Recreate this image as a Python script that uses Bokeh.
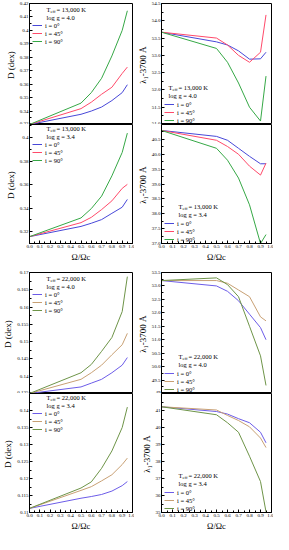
from bokeh.plotting import figure
from bokeh.layouts import column, row
from bokeh.models import FixedTicker, Range1d, Legend, LegendItem, Label
from bokeh.embed import file_html
from bokeh.resources import INLINE

FONT = "Liberation Serif"

# ---------------- data ----------------
omega = [0.0, 0.5, 0.6, 0.7, 0.8, 0.9, 0.95]
incl_labels = ["i = 0°", "i = 45°", "i = 90°"]

x_ticks = [0.0, 0.1, 0.2, 0.3, 0.4, 0.5, 0.6, 0.7, 0.8, 0.9, 1.0]
x_tick_labels = ["0.0", "0.1", "0.2", "0.3", "0.4", "0.5", "0.6", "0.7", "0.8", "0.9", "1.0"]

# Teff = 13,000 K, log g = 4.0
d13_40_i0 = [0.3300, 0.3376, 0.3400, 0.3430, 0.3478, 0.3537, 0.3596]
d13_40_i45 = [0.3300, 0.3418, 0.3466, 0.3525, 0.3577, 0.3680, 0.3727]
d13_40_i90 = [0.3300, 0.3459, 0.3537, 0.3644, 0.3810, 0.4000, 0.4146]
l13_40_i0 = [53.67, 53.39, 53.30, 53.13, 52.89, 52.90, 53.09]
l13_40_i45 = [53.67, 53.50, 53.30, 53.00, 52.80, 53.09, 54.17]
l13_40_i90 = [53.67, 53.20, 52.80, 52.20, 51.50, 51.10, 52.40]

# Teff = 13,000 K, log g = 3.4
d13_34_i0 = [0.3158, 0.3245, 0.3272, 0.3303, 0.3356, 0.3408, 0.3474]
d13_34_i45 = [0.3158, 0.3277, 0.3322, 0.3388, 0.3462, 0.3568, 0.3602]
d13_34_i90 = [0.3158, 0.3317, 0.3396, 0.3502, 0.3674, 0.3873, 0.4037]
l13_34_i0 = [40.80, 40.60, 40.47, 40.20, 39.93, 39.68, 39.68]
l13_34_i45 = [40.80, 40.47, 40.26, 40.00, 39.60, 39.30, 39.70]
l13_34_i90 = [40.80, 40.20, 39.80, 39.20, 38.30, 37.00, 37.30]

# Teff = 22,000 K, log g = 4.0
d22_40_i0 = [0.1350, 0.1369, 0.1380, 0.1391, 0.1410, 0.1432, 0.1454]
d22_40_i45 = [0.1350, 0.1391, 0.1410, 0.1432, 0.1462, 0.1491, 0.1524]
d22_40_i90 = [0.1350, 0.1410, 0.1434, 0.1472, 0.1512, 0.1587, 0.1688]
l22_40_i0 = [53.20, 53.00, 52.80, 52.45, 51.95, 51.45, 51.00]
l22_40_i45 = [53.20, 53.20, 53.10, 52.85, 52.60, 51.85, 51.70]
l22_40_i90 = [53.20, 53.30, 53.05, 52.60, 51.50, 50.40, 49.30]

# Teff = 22,000 K, log g = 3.4
d22_34_i0 = [0.1112, 0.1142, 0.1147, 0.1153, 0.1163, 0.1179, 0.1191]
d22_34_i45 = [0.1112, 0.1165, 0.1176, 0.1193, 0.1211, 0.1241, 0.1260]
d22_34_i90 = [0.1112, 0.1172, 0.1190, 0.1230, 0.1281, 0.1350, 0.1410]
l22_34_i0 = [41.22, 40.94, 40.79, 40.52, 40.28, 39.72, 39.10]
l22_34_i45 = [41.22, 41.03, 40.71, 40.41, 40.04, 39.38, 38.82]
l22_34_i90 = [41.22, 40.75, 40.28, 39.72, 38.31, 36.82, 35.04]

# y ticks / labels
yt_d13_40 = [0.33, 0.34, 0.35, 0.36, 0.37, 0.38, 0.39, 0.40, 0.41, 0.42]
yl_d13_40 = ["0.33", "0.34", "0.35", "0.36", "0.37", "0.38", "0.39", "0.4", "0.41", "0.42"]
yt_d13_34 = [0.32, 0.34, 0.36, 0.38, 0.40]
yl_d13_34 = ["0.32", "0.34", "0.36", "0.38", "0.4"]
yt_l13_40 = [51.0, 51.5, 52.0, 52.5, 53.0, 53.5, 54.0, 54.5]
yl_l13_40 = ["51.0", "51.5", "52.0", "52.5", "53.0", "53.5", "54.0", "54.5"]
yt_l13_34 = [37.0, 37.5, 38.0, 38.5, 39.0, 39.5, 40.0, 40.5]
yl_l13_34 = ["37.0", "37.5", "38.0", "38.5", "39.0", "39.5", "40.0", "40.5"]
yt_d22_40 = [0.135, 0.14, 0.145, 0.15, 0.155, 0.16, 0.165, 0.17]
yl_d22_40 = ["0.135", "0.14", "0.145", "0.15", "0.155", "0.16", "0.165", "0.17"]
yt_l22_40 = [49.0, 49.5, 50.0, 50.5, 51.0, 51.5, 52.0, 52.5, 53.0, 53.5]
yl_l22_40 = ["49", "49.5", "50.0", "50.5", "51.0", "51.5", "52.0", "52.5", "53.0", "53.5"]
yt_d22_34 = [0.11, 0.115, 0.12, 0.125, 0.13, 0.135, 0.14]
yl_d22_34 = ["0.11", "0.115", "0.12", "0.125", "0.13", "0.135", "0.14"]
yt_l22_34 = [35, 36, 37, 38, 39, 40, 41]
yl_l22_34 = ["35", "36", "37", "38", "39", "40", "41"]

colors_13 = ["#4848d8", "#ff4a6a", "#36a846"]
colors_22 = ["#6c5ce8", "#c8a074", "#6e9448"]

# ---------------- layout constants ----------------
LEFT_W, RIGHT_W = 134, 139
MBL = 26
MBR = 2
FH = 121
BOTTOM_AXIS = 19


def minor_of(ticks):
    step = ticks[1] - ticks[0]
    out = [t + step / 2 for t in ticks]
    out.insert(0, ticks[0] - step / 2)
    return out


def style_axis(ax):
    ax.axis_line_color = "black"
    ax.major_tick_in = 3
    ax.major_tick_out = 0
    ax.minor_tick_in = 2
    ax.minor_tick_out = 0
    ax.major_tick_line_color = "black"
    ax.minor_tick_line_color = "black"
    ax.major_label_text_font = FONT
    ax.major_label_text_font_size = "5px"
    ax.major_label_text_color = "black"
    ax.major_label_standoff = 1
    ax.axis_label_text_font = FONT
    ax.axis_label_text_font_style = "normal"
    ax.axis_label_text_color = "black"
    ax.axis_label_standoff = 1


def make_panel(side, kind, yr, yticks, ylabels, ylab, series, colors, temp, logg, hx):
    width = LEFT_W if side == "L" else RIGHT_W
    if kind == "top1":
        mbt, mbb = 3, 0
    elif kind == "top2":
        mbt, mbb = 8, 0
    else:
        mbt, mbb = 0, BOTTOM_AXIS
    height = FH + mbt + mbb
    p = figure(width=width, height=height, x_range=Range1d(0, 1), y_range=Range1d(*yr),
               output_backend="svg", toolbar_location=None,
               min_border_left=MBL, min_border_right=MBR,
               min_border_top=mbt, min_border_bottom=mbb)
    p.outline_line_color = "black"
    p.outline_line_alpha = 1
    p.grid.visible = False

    xa = p.xaxis[0]
    style_axis(xa)
    xa.ticker = FixedTicker(ticks=x_ticks, minor_ticks=minor_of(x_ticks))
    xa.major_label_overrides = dict(zip(x_ticks, x_tick_labels))
    if kind == "bot":
        xa.axis_label = "Ω/Ωc"
        xa.axis_label_text_font_size = "8.5px"
    else:
        xa.visible = False

    ya = p.yaxis[0]
    style_axis(ya)
    ya.ticker = FixedTicker(ticks=yticks, minor_ticks=minor_of(yticks))
    ya.major_label_overrides = dict(zip(yticks, ylabels))
    ya.axis_label = ylab
    ya.axis_label_text_font_size = "9px"

    rends = []
    for ys, c in zip(series, colors):
        rends.append(p.line(omega, ys, line_color=c, line_width=1))

    items = [LegendItem(label=lab, renderers=[r]) for lab, r in zip(incl_labels, rends)]
    if side == "L":
        leg_y = FH - 42
        yT, yg = FH - 6, FH - 14
    else:
        leg_y = 0
        yT, yg = 37, 29
    leg = Legend(items=items, location=(3, leg_y), orientation="vertical",
                 padding=0, spacing=0, margin=0, glyph_width=10, glyph_height=8,
                 label_height=8, label_standoff=3, label_text_font=FONT,
                 label_text_font_size="6.5px", label_text_color="black",
                 background_fill_alpha=0, border_line_alpha=0)
    p.add_layout(leg)

    common = dict(x_units="screen", y_units="screen", text_font=FONT,
                  text_color="black", text_baseline="middle")
    p.add_layout(Label(x=hx, y=yT, text="T", text_font_size="6.5px", **common))
    p.add_layout(Label(x=hx + 4.0, y=yT - 1.8, text="eff", text_font_size="4.5px", **common))
    p.add_layout(Label(x=hx + 10.0, y=yT, text="= " + temp, text_font_size="6.5px", **common))
    p.add_layout(Label(x=hx, y=yg, text="log g = " + logg, text_font_size="6.5px", **common))
    return p


D_LAB = "D  (dex)"
L_LAB = "λ₁-3700  Å"

p1 = make_panel("L", "top1", (0.33, 0.42), yt_d13_40, yl_d13_40, D_LAB,
                [d13_40_i0, d13_40_i45, d13_40_i90], colors_13, "13,000 K", "4.0", 17)
p2 = make_panel("L", "bot", (0.31, 0.411), yt_d13_34, yl_d13_34, D_LAB,
                [d13_34_i0, d13_34_i45, d13_34_i90], colors_13, "13,000 K", "3.4", 17)
p3 = make_panel("R", "top1", (51.0, 54.5), yt_l13_40, yl_l13_40, L_LAB,
                [l13_40_i0, l13_40_i45, l13_40_i90], colors_13, "13,000 K", "4.0", 7)
p4 = make_panel("R", "bot", (37.0, 41.0), yt_l13_34, yl_l13_34, L_LAB,
                [l13_34_i0, l13_34_i45, l13_34_i90], colors_13, "13,000 K", "3.4", 17)
p5 = make_panel("L", "top2", (0.135, 0.17), yt_d22_40, yl_d22_40, D_LAB,
                [d22_40_i0, d22_40_i45, d22_40_i90], colors_22, "22,000 K", "4.0", 17)
p6 = make_panel("R", "top2", (49.0, 53.5), yt_l22_40, yl_l22_40, L_LAB,
                [l22_40_i0, l22_40_i45, l22_40_i90], colors_22, "22,000 K", "4.0", 17)
p7 = make_panel("L", "bot", (0.11, 0.145), yt_d22_34, yl_d22_34, D_LAB,
                [d22_34_i0, d22_34_i45, d22_34_i90], colors_22, "22,000 K", "3.4", 17)
p8 = make_panel("R", "bot", (35.0, 42.0), yt_l22_34, yl_l22_34, L_LAB,
                [l22_34_i0, l22_34_i45, l22_34_i90], colors_22, "22,000 K", "3.4", 17)

layout = row(column(p1, p2, p5, p7, spacing=0), column(p3, p4, p6, p8, spacing=0), spacing=0)

open("out.html", "w").write(file_html(layout, INLINE))
